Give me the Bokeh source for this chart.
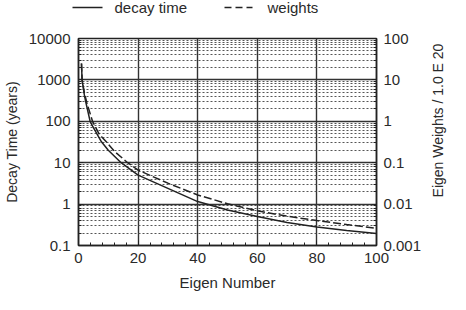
import math
from bokeh.plotting import figure
from bokeh.layouts import column, row
from bokeh.models import (LogAxis, Range1d, LogScale, FixedTicker, LogTicker,
                          CustomJSTickFormatter)
from bokeh.core.properties import value
from bokeh.embed import file_html
from bokeh.resources import INLINE

# ---- data ----
eigen_decay = [1, 1.2, 2, 2.5, 3.9, 5, 7.7, 10, 14.3, 20, 30, 40, 50, 60, 70, 80, 90, 100]
decay_time = [2500, 1000, 420, 280, 100, 70, 32, 20, 10, 5.0, 2.4, 1.15, 0.72, 0.50, 0.36, 0.28, 0.23, 0.195]

eigen_weights = [1, 1.2, 2, 2.8, 4.7, 7, 9.4, 12, 16.5, 20, 30, 40, 50, 60, 70, 80, 90, 100]
weights = [25, 10, 4.8, 2.8, 1.0, 0.48, 0.316, 0.19, 0.1, 0.066, 0.032, 0.0166, 0.0102,
           0.0069, 0.0051, 0.0040, 0.0032, 0.0026]

x_ticks = [0, 20, 40, 60, 80, 100]
x_minor_ticks = [0, 4, 8, 12, 16, 20, 24, 28, 32, 36, 40, 44, 48, 52, 56, 60, 64, 68, 72, 76,
                 80, 84, 88, 92, 96, 100]

series_labels = ["decay time", "weights"]
x_title = "Eigen Number"
left_title = "Decay Time (years)"
right_title = "Eigen Weights / 1.0 E 20"

FONT = "Liberation Sans"
TXT = "#2a2a2a"
INK = "#222222"
DASH = "8 3"

# ---------------- main plot ----------------
p = figure(width=424, height=265, x_range=(0, 100), y_range=(0.1, 10000),
           y_axis_type="log", output_backend="svg", toolbar_location=None,
           min_border_left=73, min_border_right=46, min_border_top=9, min_border_bottom=49,
           background_fill_color="white", border_fill_color="white")

p.extra_y_ranges = {"w": Range1d(0.001, 100)}
p.extra_y_scales = {"w": LogScale()}

fmt_code = "return String(parseFloat(tick.toPrecision(3)))"

xa = p.xaxis[0]
xa.ticker = FixedTicker(ticks=x_ticks, minor_ticks=x_minor_ticks)
xa.axis_label = x_title

ya = p.yaxis[0]
ya.ticker = LogTicker(desired_num_ticks=6, num_minor_ticks=10)
ya.formatter = CustomJSTickFormatter(code=fmt_code)
ya.axis_label = left_title

ra = LogAxis(y_range_name="w")
ra.ticker = LogTicker(desired_num_ticks=6, num_minor_ticks=10)
ra.formatter = CustomJSTickFormatter(code=fmt_code)
p.add_layout(ra, "right")

for ax in (xa, ya, ra):
    ax.axis_line_color = INK
    ax.axis_line_width = 1.5
    ax.major_tick_in = 5
    ax.major_tick_out = 0
    ax.minor_tick_in = 3
    ax.minor_tick_out = 0
    ax.major_tick_line_color = INK
    ax.minor_tick_line_color = INK
    ax.major_label_text_font = FONT
    ax.major_label_text_font_size = "15px"
    ax.major_label_text_color = TXT
    ax.axis_label_text_font = FONT
    ax.axis_label_text_font_size = "14px"
    ax.axis_label_text_font_style = "normal"
    ax.axis_label_text_color = TXT

xa.axis_label_text_font_size = "15px"
xa.major_label_standoff = 7
xa.axis_label_standoff = 8
ya.major_label_standoff = 8
ya.axis_label_standoff = 6
ra.major_label_standoff = 7

p.xgrid.ticker = FixedTicker(ticks=x_ticks)
p.xgrid.grid_line_color = "#333333"
p.xgrid.grid_line_width = 1.4
p.ygrid.grid_line_color = "#333333"
p.ygrid.grid_line_width = 1.4
p.ygrid.minor_grid_line_color = "#555555"
p.ygrid.minor_grid_line_width = 1
p.ygrid.minor_grid_line_dash = "2 2"

p.outline_line_color = INK
p.outline_line_width = 1.5
p.outline_line_alpha = 1

p.line(eigen_decay, decay_time, line_color=INK, line_width=1.5)
p.line(eigen_weights, weights, y_range_name="w", line_color=INK, line_width=1.5,
       line_dash=DASH)

# ---------------- legend strip (top), screen-like coordinates ----------------
top = figure(width=450, height=29, x_range=(0, 450), y_range=(0, 29),
             x_axis_type=None, y_axis_type=None, output_backend="svg",
             toolbar_location=None, min_border=0, outline_line_color=None,
             background_fill_color="white", border_fill_color="white")
top.xgrid.visible = False
top.ygrid.visible = False
top.line(x=[72, 102], y=[22, 22], line_color=INK, line_width=1.5)
top.line(x=[224, 252], y=[22, 22], line_color=INK, line_width=1.5, line_dash="7 4")
top.text(x=[114, 267], y=[22, 22], text=series_labels, text_baseline="middle",
         text_align="left", text_font=value(FONT), text_font_size="15px",
         text_color=TXT)

# ---------------- right title strip, screen-like coordinates ----------------
side = figure(width=26, height=265, x_range=(0, 26), y_range=(0, 265),
              x_axis_type=None, y_axis_type=None, output_backend="svg",
              toolbar_location=None, min_border=0, outline_line_color=None,
              background_fill_color="white", border_fill_color="white")
side.xgrid.visible = False
side.ygrid.visible = False
side.text(x=[13], y=[160], text=[right_title], angle=math.pi / 2,
          text_align="center", text_baseline="middle",
          text_font=value(FONT), text_font_size="14px", text_color=TXT)

layout = column(top, row(p, side, spacing=0), spacing=0)

open("out.html", "w").write(file_html(layout, INLINE))
